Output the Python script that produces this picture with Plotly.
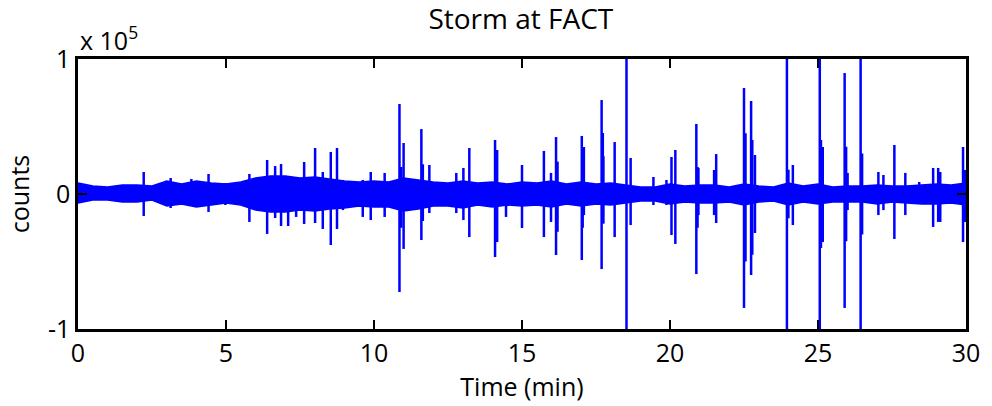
import plotly.graph_objects as go

# ---- data ----
# background noise envelope, every half minute (time in min, counts)
band_t = [i * 0.5 for i in range(61)]
band_hi = [8100, 5900, 5200, 6700, 6700, 5900, 9600, 7400, 9600, 8100,
           7400, 8900, 11900, 13300, 13300, 11900, 12600, 11100, 9600, 8900,
           9600, 8900, 11900, 10400, 8900, 8100, 9600, 8100, 8900, 7400,
           8900, 8100, 9600, 7400, 8900, 7400, 8100, 6700, 5200, 5200,
           7400, 5900, 6700, 6700, 5200, 7400, 5900, 5200, 8100, 5900,
           7400, 5200, 5900, 5900, 6700, 5900, 5900, 6700, 7400, 6700, 8100]
band_lo = [-6700, -4400, -4400, -5900, -5900, -4400, -8900, -7400, -9600, -8100,
           -6700, -8100, -11900, -13300, -13300, -11900, -12600, -11100, -10400, -8900,
           -9600, -9600, -12600, -11100, -8900, -8900, -10400, -8100, -9600, -8100,
           -8900, -8100, -9600, -7400, -8900, -7400, -8100, -6700, -5200, -5200,
           -7400, -5900, -6700, -6700, -5900, -8100, -5900, -5200, -8100, -5900,
           -7400, -5900, -5900, -5900, -7400, -5900, -6700, -7400, -7400, -6700, -8100]

# spike events: time (min), positive peak, negative peak (counts)
spike_t = [2.22, 3.13, 3.83, 4.41, 4.98, 5.79, 6.39, 6.66, 6.86, 7.10, 7.37, 7.64,
           8.01, 8.27, 8.54, 8.75, 8.95, 9.62, 9.89, 10.36, 10.86, 11.00, 11.60,
           11.87, 12.78, 13.02, 13.22, 14.09, 14.16, 14.46, 15.00, 15.74, 15.98,
           16.15, 17.02, 17.09, 17.69, 17.73, 18.13, 18.53, 18.67, 19.44, 19.88,
           20.05, 20.18, 20.89, 20.96, 21.49, 21.56, 22.50, 22.74, 22.87, 23.95,
           24.15, 25.06, 25.16, 25.90, 26.00, 26.44, 27.04, 27.21, 27.58, 27.95,
           28.42, 28.89, 29.06, 29.13, 29.90, 29.97,
           10.92, 11.65, 14.12, 16.20, 17.05, 17.75, 20.93, 22.55, 22.78, 24.00,
           25.10, 25.95, 26.49]
spike_up = [16300, 11850, 11100, 14800, 8150, 14800, 25200, 20700, 22200, 10400, 10400, 23700,
            34100, 16300, 31100, 34100, 10400, 10400, 16300, 15600, 66700, 37800, 48100,
            21500, 15600, 19300, 34100, 40000, 32600, 6700, 21500, 31900, 15600,
            42200, 43000, 34800, 69600, 45200, 38500, 150000, 26700, 12600, 10400,
            27400, 32600, 51900, 19300, 17800, 29600, 78500, 68900, 28900, 150000,
            21500, 150000, 34800, 89600, 15600, 150000, 16300, 14100, 36300, 15600,
            8900, 19300, 19300, 16300, 34800, 17800,
            20000, 22000, 20000, 24000, 22000, 28000, 20000, 45000, 40000, 18000,
            40000, 35000, 30000]
spike_dn = [-16300, -10370, -8900, -13300, -8150, -20700, -29600, -17800, -23700, -23700, -17000, -22200,
            -21500, -25900, -37800, -25900, -11900, -17000, -19300, -17000, -72600, -40700, -34100,
            -14100, -14100, -19300, -31900, -46700, -35600, -17000, -25200, -31900, -20700,
            -45200, -48900, -15600, -55600, -15600, -31900, -150000, -23000, -8150, -8150,
            -30400, -37000, -59300, -15600, -15600, -21500, -84400, -60000, -28900, -150000,
            -23000, -150000, -35600, -84400, -11900, -150000, -15600, -11900, -33300, -15600,
            -6700, -24400, -20700, -20700, -35600, -20700,
            -25000, -20000, -25000, -28000, -25000, -22000, -25000, -50000, -45000, -18000,
            -40000, -35000, -30000]

x_ticks = [0, 5, 10, 15, 20, 25, 30]
y_ticks = [-100000, 0, 100000]
y_tick_labels = ["-1", "0", "1"]

BLUE = "#0000FF"
FONT = "Open Sans"

fig = go.Figure()

# noise band
fig.add_trace(go.Scatter(
    x=band_t + band_t[::-1], y=band_hi + band_lo[::-1],
    fill="toself", fillcolor=BLUE, mode="lines",
    line=dict(color=BLUE, width=1.5), hoverinfo="skip", showlegend=False))

# spikes as vertical segments
sx, sy = [], []
for t, u, d in zip(spike_t, spike_up, spike_dn):
    sx += [t, t, None]
    sy += [d, u, None]
fig.add_trace(go.Scatter(x=sx, y=sy, mode="lines",
                         line=dict(color=BLUE, width=2.5), showlegend=False))

fig.update_layout(
    width=992, height=406,
    margin=dict(l=78, r=20, t=59, b=77),
    paper_bgcolor="white", plot_bgcolor="white",
    font=dict(family=FONT, size=25, color="black"),
    title=dict(text="Storm at FACT", x=0.525, xanchor="center",
               y=0.952, yanchor="middle", font=dict(size=28)),
    showlegend=False,
)
fig.update_xaxes(range=[0, 30], tickvals=x_ticks, ticks="inside", ticklen=9, tickwidth=2,
                 tickcolor="black", showline=True, linecolor="black", linewidth=2.5,
                 mirror="ticks", showgrid=False, zeroline=False,
                 title=dict(text="Time (min)", standoff=0, font=dict(size=25)),
                 tickfont=dict(size=25))
fig.update_yaxes(range=[-100000, 100000], tickvals=y_ticks, ticktext=y_tick_labels,
                 ticks="inside", ticklen=9, tickwidth=2, tickcolor="black",
                 showline=True, linecolor="black", linewidth=2.5, mirror="ticks",
                 showgrid=False, zeroline=False,
                 title=dict(text="counts", standoff=12, font=dict(size=25)),
                 tickfont=dict(size=25))

fig.add_annotation(text="x 10<sup>5</sup>", xref="paper", yref="paper",
                   x=0.0, y=1.0, xanchor="left", yanchor="bottom", yshift=0,
                   showarrow=False, font=dict(size=25))

fig.write_html("out.html")
